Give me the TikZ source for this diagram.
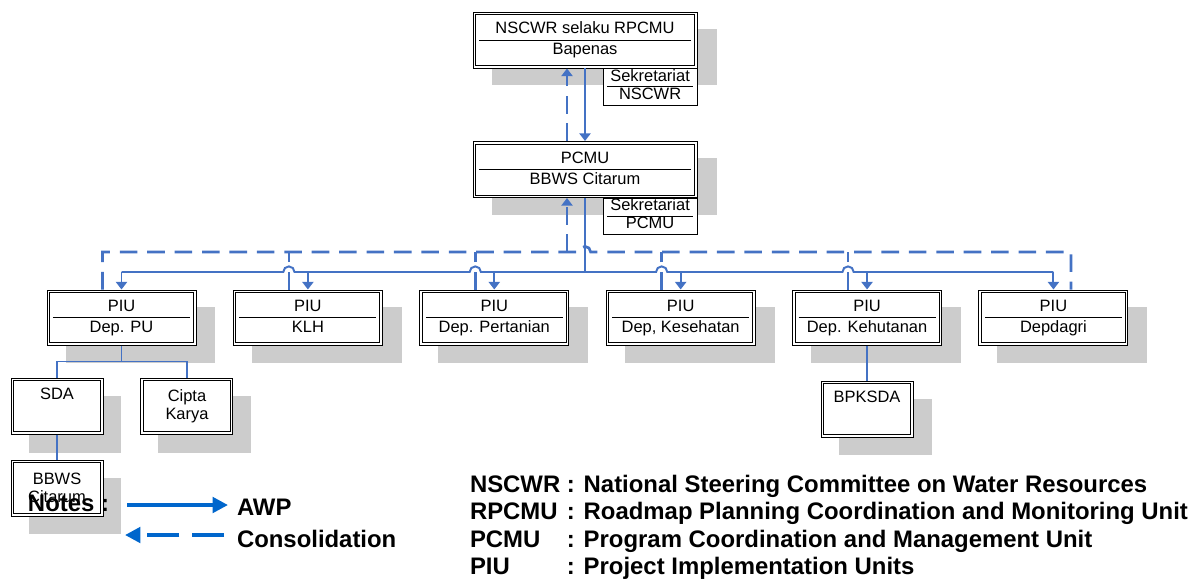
\documentclass[tikz,border=0pt]{standalone}
\usepackage{fontspec}
\setmainfont{Liberation Sans}
\usepackage{array}
\usetikzlibrary{arrows.meta, positioning, backgrounds}
\definecolor{LinkBlue}{HTML}{4472C4}
\definecolor{KeyBlue}{HTML}{0066CC}
\definecolor{ShadeGray}{HTML}{CCCCCC}
\newcommand{\boxfont}{\fontsize{11.7}{13}\selectfont}
\newcommand{\notefont}{\fontsize{17}{17.8}\selectfont\bfseries}
\newcommand{\twopart}[3]{\begin{tabular}{@{}>{\centering\arraybackslash}p{#1}@{}}#2\\\hline #3\end{tabular}}
\renewcommand{\arraystretch}{1.1}
\setlength{\arrayrulewidth}{0.6pt}

\begin{document}
\begin{tikzpicture}[x=0.25mm, y=-0.25mm, >={Triangle[width=8pt, length=5.5pt]},
        unit/.style={rectangle, draw, line width=0.7pt, fill=white, inner sep=0pt, font=\boxfont, align=center},
        frame/.style={draw, line width=0.7pt},
        mainbox/.style={unit, minimum width=56mm, minimum height=14mm},
        piubox/.style={unit, minimum width=37.25mm, minimum height=13.75mm},
        subbox/.style={unit, minimum width=23mm, minimum height=14mm},
        sekbox/.style={rectangle, draw, line width=0.6pt, fill=white, inner sep=0pt, minimum width=23.5mm, minimum height=9mm, font=\boxfont\def\arraystretch{0.95}},
        awpline/.style={LinkBlue, line width=1.4pt},
        awp/.style={->, awpline},
        consline/.style={LinkBlue, line width=1.9pt, dash pattern=on 12.5pt off 7pt},
        cons/.style={->, consline},
        sub/.style={LinkBlue, line width=1.3pt},
        note/.style={font=\notefont, inner sep=0pt, outer sep=0pt},
        keyawp/.style={-{Triangle[width=11pt, length=11pt]}, KeyBlue, line width=2.6pt},
        keycons/.style={keyawp, dash pattern=on 22.8pt off 9pt}
    ]
    \useasboundingbox (0,0) rectangle (1194,579);

    % Top level
    \node[mainbox] (nscwr) at (585,40) {\twopart{53mm}{NSCWR selaku RPCMU}{Bapenas}};
    \node[mainbox] (pcmu) at (585,169.5) {\twopart{53mm}{PCMU}{BBWS Citarum}};

    % PIU row
    \node[piubox] (piupu) at (121.5,317.5) {\twopart{34.25mm}{PIU}{Dep. PU}};
    \node[piubox, right=9.1mm of piupu] (piuklh) {\twopart{34.25mm}{PIU}{KLH}};
    \node[piubox, right=9.1mm of piuklh] (piutani) {\twopart{34.25mm}{PIU}{Dep. Pertanian}};
    \node[piubox, right=9.1mm of piutani] (piusehat) {\twopart{34.25mm}{PIU}{Dep, Kesehatan}};
    \node[piubox, right=9.1mm of piusehat] (piuhut) {\twopart{34.25mm}{PIU}{Dep. Kehutanan}};
    \node[piubox, right=9.1mm of piuhut] (piudagri) {\twopart{34.25mm}{PIU}{Depdagri}};

    % Units below the PIUs
    \node[subbox] (sda) at (57,406) {SDA\\\strut};
    \node[subbox, right=9.25mm of sda] (cipta) {Cipta\\Karya};
    \node[subbox, below=6.25mm of sda] (bbws) {BBWS\\Citarum};
    \node[subbox, below=8.75mm of piuhut] (bpksda) {BPKSDA\\\strut};

    % Inner line of the double frames
    \foreach \b in {nscwr, pcmu, piupu, piuklh, piutani, piusehat, piuhut, piudagri, sda, cipta, bbws, bpksda}
        \draw[frame] ([shift={(3,3)}]\b.north west) rectangle ([shift={(-3,-3)}]\b.south east);

    % Secretariats
    \node[sekbox, anchor=north east] (seknscwr) at (nscwr.south east) {\twopart{21.5mm}{Sekretariat}{NSCWR}};
    \node[sekbox, anchor=north east] (sekpcmu) at (pcmu.south east) {\twopart{21.5mm}{Sekretariat}{PCMU}};

    % Grey shadows behind the boxes
    \begin{scope}[on background layer]
        \foreach \b in {nscwr, pcmu, piupu, piuklh, piutani, piusehat, piuhut, piudagri}
            \fill[ShadeGray] ([shift={(19,17)}]\b.south west) rectangle ([shift={(19,17)}]\b.north east);
        \foreach \b in {sda, cipta, bbws, bpksda}
            \fill[ShadeGray] ([shift={(18,18)}]\b.south west) rectangle ([shift={(18,18)}]\b.north east);
    \end{scope}

    % Bus lines
    \coordinate (awpbus) at (585,272);
    \coordinate (consbus) at (567,252);
    \coordinate (d1) at ([xshift=-4.75mm]piupu.north);
    \coordinate (d2) at ([xshift=-4.75mm]piuklh.north);
    \coordinate (d3) at ([xshift=-4.75mm]piutani.north);
    \coordinate (d4) at ([xshift=-4.75mm]piusehat.north);
    \coordinate (d5) at ([xshift=-4.75mm]piuhut.north);
    \coordinate (d6) at ([xshift=4.4mm]piudagri.north);

    % AWP (solid)
    \draw[awp] (nscwr) -- (pcmu);
    \draw[awpline] (pcmu.south) -- (awpbus);
    \draw[awpline] (piupu.north |- awpbus) -- ([xshift=-4pt]d2 |- awpbus) arc[start angle=180, end angle=0, radius=4pt]
        -- ([xshift=-4pt]d3 |- awpbus) arc[start angle=180, end angle=0, radius=4pt]
        -- ([xshift=-4pt]d4 |- awpbus) arc[start angle=180, end angle=0, radius=4pt]
        -- ([xshift=-4pt]d5 |- awpbus) arc[start angle=180, end angle=0, radius=4pt]
        -- (piudagri.north |- awpbus);
    \draw[awp] (piupu.north |- awpbus) -- (piupu.north);
    \draw[awp] (piuklh.north |- awpbus) -- (piuklh.north);
    \draw[awp] (piutani.north |- awpbus) -- (piutani.north);
    \draw[awp] (piusehat.north |- awpbus) -- (piusehat.north);
    \draw[awp] (piuhut.north |- awpbus) -- (piuhut.north);
    \draw[awp] (piudagri.north |- awpbus) -- (piudagri.north);

    % Consolidation (dashed)
    \draw[cons] ([xshift=-4.5mm]pcmu.north) -- ([xshift=-4.5mm]nscwr.south);
    \draw[cons] (consbus) -- (consbus |- pcmu.south);
    \draw[consline] (d1) |- ([xshift=-4pt]awpbus |- consbus) arc[start angle=180, end angle=0, radius=4pt] -| (d6);
    \draw[consline] (d2) -- (d2 |- consbus);
    \draw[consline] (d3) -- (d3 |- consbus);
    \draw[consline] (d4) -- (d4 |- consbus);
    \draw[consline] (d5) -- (d5 |- consbus);

    % Lower links
    \draw[sub] (piupu.south) -- ++(0,16) coordinate (pujoin) -| (sda.north);
    \draw[sub] (pujoin) -| (cipta.north);
    \draw[sub] (sda) -- (bbws);
    \draw[sub] (piuhut.south) -- (piuhut.south |- bpksda.north);

    % Notes
    \node[note, anchor=base west] (notes) at (28,511) {Notes :};
    \node[note, anchor=base west] (awptxt) at (237,515) {AWP};
    \node[note, anchor=base west] (constxt) at (237,547) {Consolidation};
    \coordinate (awptail) at (127,505);
    \coordinate (constip) at (125,535);
    \draw[keyawp, shorten >=2.25mm] (awptail) -- (awptail -| awptxt.west);
    \draw[keycons, shorten <=3.25mm] (constip -| constxt.west) -- (constip);

    \node[note, anchor=base west] (abbr) at (470,492) {\begin{tabular}[t]{@{}l@{ }l@{}}
        NSCWR & : National Steering Committee on Water Resources\\
        RPCMU & : Roadmap Planning Coordination and Monitoring Unit\\
        PCMU  & : Program Coordination and Management Unit\\
        PIU   & : Project Implementation Units
    \end{tabular}};
\end{tikzpicture}
\end{document}
